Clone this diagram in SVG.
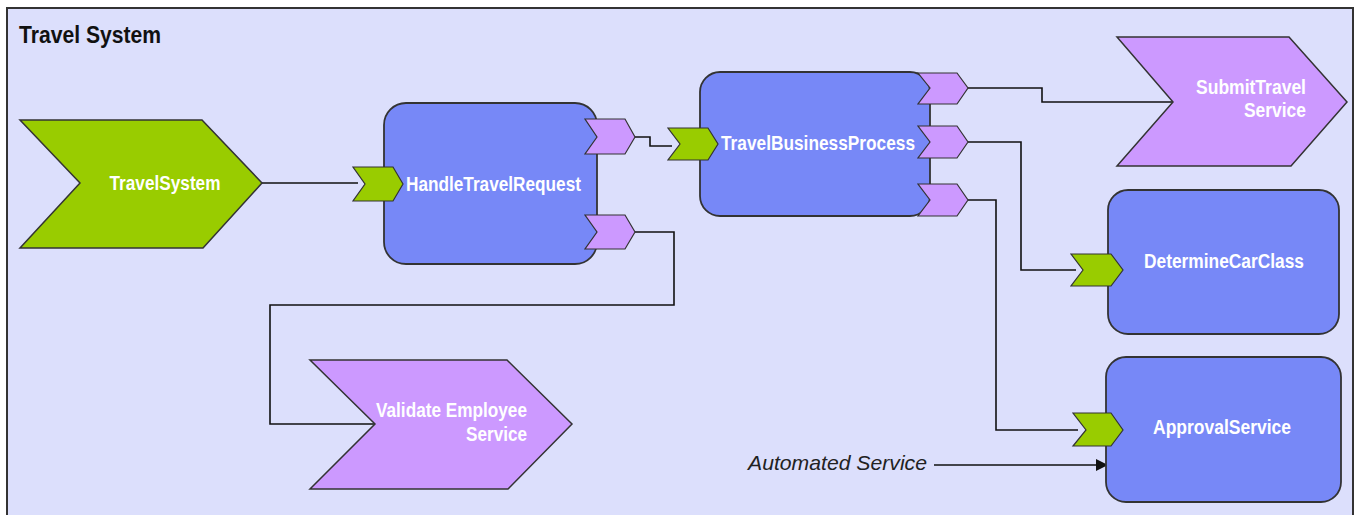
<svg xmlns="http://www.w3.org/2000/svg" width="1360" height="515" viewBox="0 0 1360 515">
  <defs>
    <style>
      .frame { fill: #dcdffc; stroke: #333; stroke-width: 2; }
      .title { font-family: "Liberation Sans", Arial, sans-serif; font-weight: bold; font-size: 24px; fill: #111; }
      .proc { fill: #7788f7; stroke: #333; stroke-width: 1.8; }
      .svc { fill: #cc99ff; stroke: #333; stroke-width: 1.5; }
      .green { fill: #99cc00; stroke: #333; stroke-width: 1.5; }
      .port-in { fill: #99cc00; stroke: #333; stroke-width: 1.2; }
      .port-out { fill: #cc99ff; stroke: #333; stroke-width: 1.2; }
      .lbl { font-family: "Liberation Sans", Arial, sans-serif; font-weight: bold; font-size: 20px; fill: #fff; }
      .note { font-family: "Liberation Sans", Arial, sans-serif; font-style: italic; font-size: 21px; fill: #222; }
      .wire { fill: none; stroke: #111; stroke-width: 1.6; }
    </style>
    <marker id="arrow" viewBox="0 0 12 12" refX="12" refY="6" markerWidth="12" markerHeight="12" markerUnits="userSpaceOnUse" orient="auto">
      <path d="M0,0 L12,6 L0,12 z" fill="#111"/>
    </marker>
  </defs>

  <!-- container -->
  <g id="travel-system-frame">
    <rect class="frame" x="7" y="8" width="1346" height="520"/>
    <text class="title" x="19" y="43" textLength="142" lengthAdjust="spacingAndGlyphs">Travel System</text>
  </g>

  <!-- connectors -->
  <g id="connectors">
    <path class="wire" d="M262,183 H358"/>
    <path class="wire" d="M635,137 H650 V146 H672"/>
    <path class="wire" d="M635,232 H674 V305 H270 V424 H375"/>
    <path class="wire" d="M968,88 H1042 V102 H1173"/>
    <path class="wire" d="M968,142 H1021 V270 H1076"/>
    <path class="wire" d="M968,200 H996 V430 H1078"/>
    <path class="wire" d="M934,465 H1108" marker-end="url(#arrow)"/>
  </g>

  <g id="TravelSystem">
    <polygon class="green" points="20,120 202,120 262,183 203,248 20,248 80,183"/>
    <text class="lbl" x="165" y="190" text-anchor="middle" textLength="111" lengthAdjust="spacingAndGlyphs">TravelSystem</text>
  </g>

  <g id="HandleTravelRequest">
    <rect class="proc" x="384" y="103" width="213" height="161" rx="22" ry="22"/>
    <polygon class="port-in" points="353,167 393,167 403,184 393,201 353,201 365,184"/>
    <polygon class="port-out" points="585,119 625,119 635,137 625,154 585,154 597,137"/>
    <polygon class="port-out" points="585,215 625,215 635,232 625,249 585,249 597,232"/>
    <text class="lbl" x="406" y="191" textLength="175" lengthAdjust="spacingAndGlyphs">HandleTravelRequest</text>
  </g>

  <g id="TravelBusinessProcess">
    <rect class="proc" x="700" y="72" width="230" height="144" rx="20" ry="20"/>
    <polygon class="port-in" points="668,128 708,128 718,144 708,160 668,160 680,144"/>
    <polygon class="port-out" points="918,73 957,73 968,88 957,104 918,104 930,88"/>
    <polygon class="port-out" points="918,126 957,126 968,142 957,158 918,158 930,142"/>
    <polygon class="port-out" points="918,184 957,184 968,200 957,216 918,216 930,200"/>
    <text class="lbl" x="721" y="150" textLength="194" lengthAdjust="spacingAndGlyphs">TravelBusinessProcess</text>
  </g>

  <g id="SubmitTravelService">
    <polygon class="svc" points="1117,37 1289,37 1347,102 1291,166 1117,166 1173,102"/>
    <text class="lbl" x="1306" y="94" text-anchor="end" textLength="110" lengthAdjust="spacingAndGlyphs">SubmitTravel</text>
    <text class="lbl" x="1306" y="117" text-anchor="end" textLength="62" lengthAdjust="spacingAndGlyphs">Service</text>
  </g>

  <g id="DetermineCarClass">
    <rect class="proc" x="1108" y="190" width="231" height="144" rx="20" ry="20"/>
    <polygon class="port-in" points="1071,254 1111,254 1123,270 1111,286 1071,286 1083,270"/>
    <text class="lbl" x="1144" y="268" textLength="160" lengthAdjust="spacingAndGlyphs">DetermineCarClass</text>
  </g>

  <g id="ApprovalService">
    <rect class="proc" x="1106" y="357" width="235" height="145" rx="20" ry="20"/>
    <polygon class="port-in" points="1073,413 1111,413 1123,430 1111,446 1073,446 1086,430"/>
    <text class="lbl" x="1222" y="434" text-anchor="middle" textLength="138" lengthAdjust="spacingAndGlyphs">ApprovalService</text>
  </g>

  <g id="ValidateEmployeeService">
    <polygon class="svc" points="310,360 507,360 572,424 508,489 310,489 375,424"/>
    <text class="lbl" x="527" y="417" text-anchor="end" textLength="151" lengthAdjust="spacingAndGlyphs">Validate Employee</text>
    <text class="lbl" x="527" y="441" text-anchor="end" textLength="61" lengthAdjust="spacingAndGlyphs">Service</text>
  </g>

  <g id="AutomatedServiceNote">
    <text class="note" x="748" y="470" textLength="179" lengthAdjust="spacingAndGlyphs">Automated Service</text>
  </g>
</svg>
